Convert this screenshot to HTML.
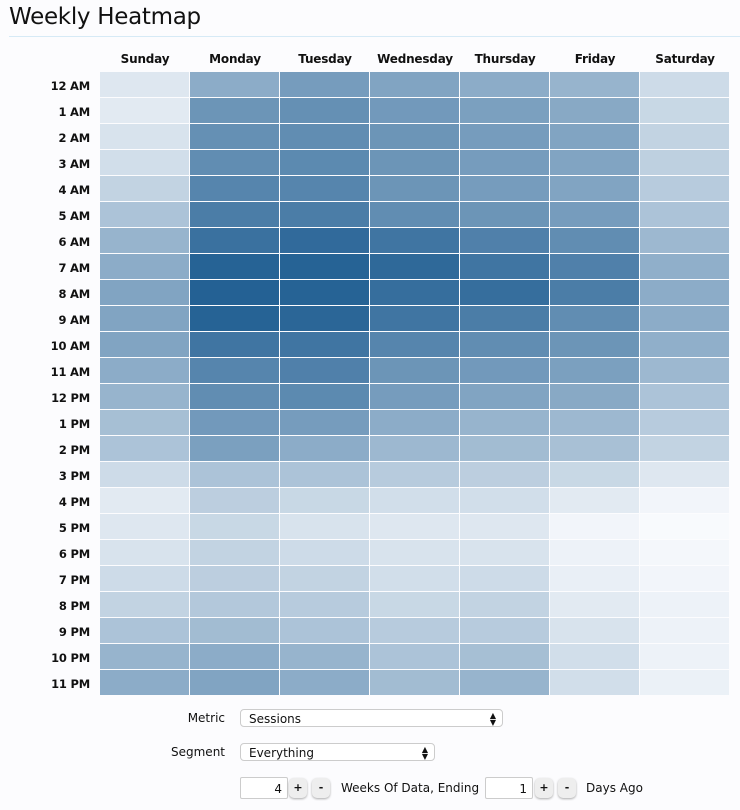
<!DOCTYPE html>
<html><head><meta charset="utf-8"><style>
body{margin:0;background:#fcfcfe;font-family:"DejaVu Sans","Liberation Sans",sans-serif;color:#111;width:740px;height:810px;overflow:hidden;position:relative}
h1{position:absolute;left:9px;top:4px;margin:0;font-weight:normal;font-size:23px;letter-spacing:-0.3px}
.rule{position:absolute;left:9px;top:36px;width:731px;height:1px;background:#d6eaf6}
.hd{position:absolute;top:52px;width:90px;text-align:center;font-size:12px;font-weight:bold;letter-spacing:-0.2px}
.rl{position:absolute;left:0;width:90px;text-align:right;font-size:11.5px;font-weight:bold;letter-spacing:-0.2px}
.c{position:absolute;width:89px;height:25px}
.lab{position:absolute;font-size:12px;text-align:right}
.sel{position:absolute;height:18px;border:1px solid #ccc;border-radius:4px;background:#fff;font-size:12px;line-height:18px;padding-left:8px;box-sizing:border-box}
.sel span{position:absolute;right:6px;top:0;font-size:8px}
.inp{position:absolute;height:22px;border:1px solid #ccc;background:#fff;font-size:12px;line-height:22px;text-align:right;padding-right:5px;box-sizing:border-box;border-radius:2px}
.btn{position:absolute;width:18px;height:20px;border-radius:5px;background:#eee;box-shadow:0 1px 2px #aaa;font-size:11px;text-align:center;line-height:20px;font-weight:bold}
</style></head><body>
<h1>Weekly Heatmap</h1><div class="rule"></div>
<div id="g"></div>
<div class="lab" style="left:150px;top:711px;width:75px">Metric</div>
<div class="sel" style="left:240px;top:709px;width:263px">Sessions</div>
<div class="lab" style="left:150px;top:745px;width:75px">Segment</div>
<div class="sel" style="left:240px;top:743px;width:195px">Everything</div>
<div class="inp" style="left:240px;top:777px;width:48px">4</div>
<div class="btn" style="left:289px;top:778px">+</div>
<div class="btn" style="left:312px;top:778px">-</div>
<div class="lab" style="left:341px;top:781px">Weeks Of Data, Ending</div>
<div class="inp" style="left:485px;top:777px;width:48px">1</div>
<div class="btn" style="left:535px;top:778px">+</div>
<div class="btn" style="left:558px;top:778px">-</div>
<div class="lab" style="left:586px;top:781px">Days Ago</div>
<script>
document.querySelectorAll('.sel').forEach(s=>{let sp=document.createElement('span');sp.innerHTML='<div style="line-height:7px;margin-top:2px">▲<br>▼</div>';s.appendChild(sp)});
const days=["Sunday","Monday","Tuesday","Wednesday","Thursday","Friday","Saturday"];
const hrs=["12 AM","1 AM","2 AM","3 AM","4 AM","5 AM","6 AM","7 AM","8 AM","9 AM","10 AM","11 AM","12 PM","1 PM","2 PM","3 PM","4 PM","5 PM","6 PM","7 PM","8 PM","9 PM","10 PM","11 PM"];
const V=[
[.12,.5,.6,.55,.5,.45,.2],[.1,.65,.68,.62,.58,.52,.22],[.15,.68,.7,.65,.6,.55,.25],[.18,.7,.72,.65,.6,.55,.27],
[.25,.75,.75,.65,.6,.55,.3],[.35,.8,.8,.7,.65,.6,.35],[.45,.88,.92,.85,.78,.7,.42],[.5,.97,.97,.93,.85,.78,.48],
[.55,.98,.97,.9,.9,.8,.5],[.55,.97,.95,.85,.8,.7,.5],[.55,.85,.85,.75,.7,.65,.48],[.5,.75,.78,.65,.62,.58,.42],
[.45,.7,.72,.6,.55,.52,.35],[.38,.62,.6,.5,.45,.42,.3],[.35,.58,.5,.42,.4,.37,.25],[.2,.35,.35,.3,.28,.22,.12],
[.1,.28,.22,.18,.18,.1,.03],[.12,.22,.15,.12,.12,.03,0],[.15,.25,.2,.15,.15,.05,.02],[.2,.28,.25,.18,.2,.07,.03],
[.25,.32,.3,.22,.25,.1,.05],[.35,.4,.35,.3,.3,.15,.05],[.45,.5,.45,.35,.38,.18,.05],[.5,.55,.5,.4,.45,.18,.06]];
const a=[248,250,253],b=[32,94,146];
let h='';
days.forEach((d,i)=>h+=`<div class="hd" style="left:${100+i*90}px">${d}</div>`);
hrs.forEach((r,j)=>{h+=`<div class="rl" style="top:${79+j*26}px">${r}</div>`;
V[j].forEach((v,i)=>{const c=a.map((x,k)=>Math.round(x+(b[k]-x)*v));h+=`<div class="c" style="left:${100+i*90}px;top:${72+j*26}px;background:rgb(${c})"></div>`})});
document.getElementById('g').innerHTML=h;
</script>
</body></html>
